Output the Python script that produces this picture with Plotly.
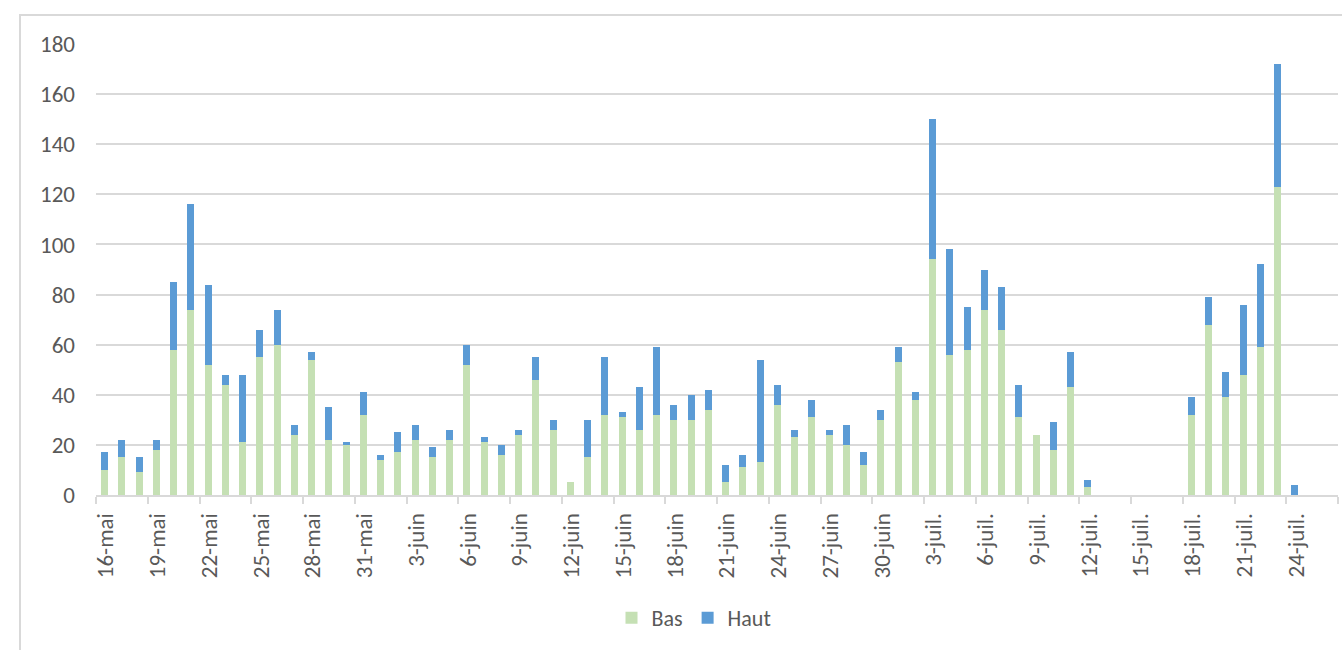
import pandas as pd
import plotly.graph_objects as go

# Daily counts, 16 May -> 24 July (one value per day)
jours = pd.date_range("2020-05-16", "2020-07-24", freq="D")

bas = [10, 15, 9, 18, 58, 74, 52, 44, 21, 55,
       60, 24, 54, 22, 20, 32, 14, 17, 22, 15,
       22, 52, 21, 16, 24, 46, 26, 5, 15, 32,
       31, 26, 32, 30, 30, 34, 5, 11, 13, 36,
       23, 31, 24, 20, 12, 30, 53, 38, 94, 56,
       58, 74, 66, 31, 24, 18, 43, 3, None, None,
       None, None, None, 32, 68, 39, 48, 59, 123, 0]

haut = [7, 7, 6, 4, 27, 42, 32, 4, 27, 11,
        14, 4, 3, 13, 1, 9, 2, 8, 6, 4,
        4, 8, 2, 4, 2, 9, 4, 0, 15, 23,
        2, 17, 27, 6, 10, 8, 7, 5, 41, 8,
        3, 7, 2, 8, 5, 4, 6, 3, 56, 42,
        17, 16, 17, 13, 0, 11, 14, 3, None, None,
        None, None, None, 7, 11, 10, 28, 33, 49, 4]

# Tick marks every three days (the last one closes the axis, unlabeled)
tick_dates = pd.date_range("2020-05-16", "2020-07-27", freq="3D")
tick_labels = ["16-mai", "19-mai", "22-mai", "25-mai", "28-mai", "31-mai",
               "3-juin", "6-juin", "9-juin", "12-juin", "15-juin", "18-juin",
               "21-juin", "24-juin", "27-juin", "30-juin",
               "3-juil.", "6-juil.", "9-juil.", "12-juil.", "15-juil.",
               "18-juil.", "21-juil.", "24-juil.", ""]

GREEN = "#c5e0b4"
BLUE = "#5b9bd5"
GRID = "#d9d9d9"
TEXT = "#595959"
FONT = "Carlito, Lato, 'Open Sans', sans-serif"

DAY_MS = 86400000
bar_w = 0.41 * DAY_MS

fig = go.Figure()
fig.add_trace(go.Bar(
    name="Bas", x=jours, y=bas,
    xperiod=DAY_MS, xperiodalignment="middle",
    width=bar_w, marker=dict(color=GREEN, line=dict(width=0)),
))
fig.add_trace(go.Bar(
    name="Haut", x=jours, y=haut,
    xperiod=DAY_MS, xperiodalignment="middle",
    width=bar_w, marker=dict(color=BLUE, line=dict(width=0)),
))

W, H = 1342, 650
ML, MR, MT, MB = 96, 4, 44, 155
pw, ph = W - ML - MR, H - MT - MB

fig.update_layout(
    barmode="stack",
    width=W, height=H,
    margin=dict(l=ML, r=MR, t=MT, b=MB, pad=0),
    paper_bgcolor="white", plot_bgcolor="white",
    font=dict(family=FONT, size=22, color=TEXT),
    showlegend=True,
    legend=dict(
        orientation="h", x=(694 - ML) / pw, xanchor="center",
        y=(MT + ph - 618) / ph, yanchor="middle",
        font=dict(size=22, color=TEXT), traceorder="normal",
        bgcolor="rgba(0,0,0,0)",
    ),
    xaxis=dict(
        type="date",
        range=["2020-05-16", "2020-07-27"],
        tickmode="array", tickvals=tick_dates, ticktext=tick_labels,
        tickangle=-90, ticklabelshift=10,
        showgrid=False, showline=True, linecolor=GRID, linewidth=2,
        ticks="outside", ticklen=7, tickwidth=2, tickcolor=GRID,
        tickfont=dict(size=23, color=TEXT),
        zeroline=False,
    ),
    yaxis=dict(
        range=[0, 180], dtick=20, tick0=0,
        showgrid=True, gridcolor=GRID, gridwidth=2,
        zeroline=False, showline=False, ticks="",
        ticklabelstandoff=20,
        tickfont=dict(size=23, color=TEXT),
    ),
    shapes=[dict(
        type="rect", xref="paper", yref="paper", layer="below",
        x0=(20 - ML) / pw, x1=(W + 20 - ML) / pw,
        y0=(MT + ph - (H + 20)) / ph, y1=(MT + ph - 15) / ph,
        line=dict(color=GRID, width=2), fillcolor="rgba(0,0,0,0)",
    )],
)

fig.write_html("out.html")
